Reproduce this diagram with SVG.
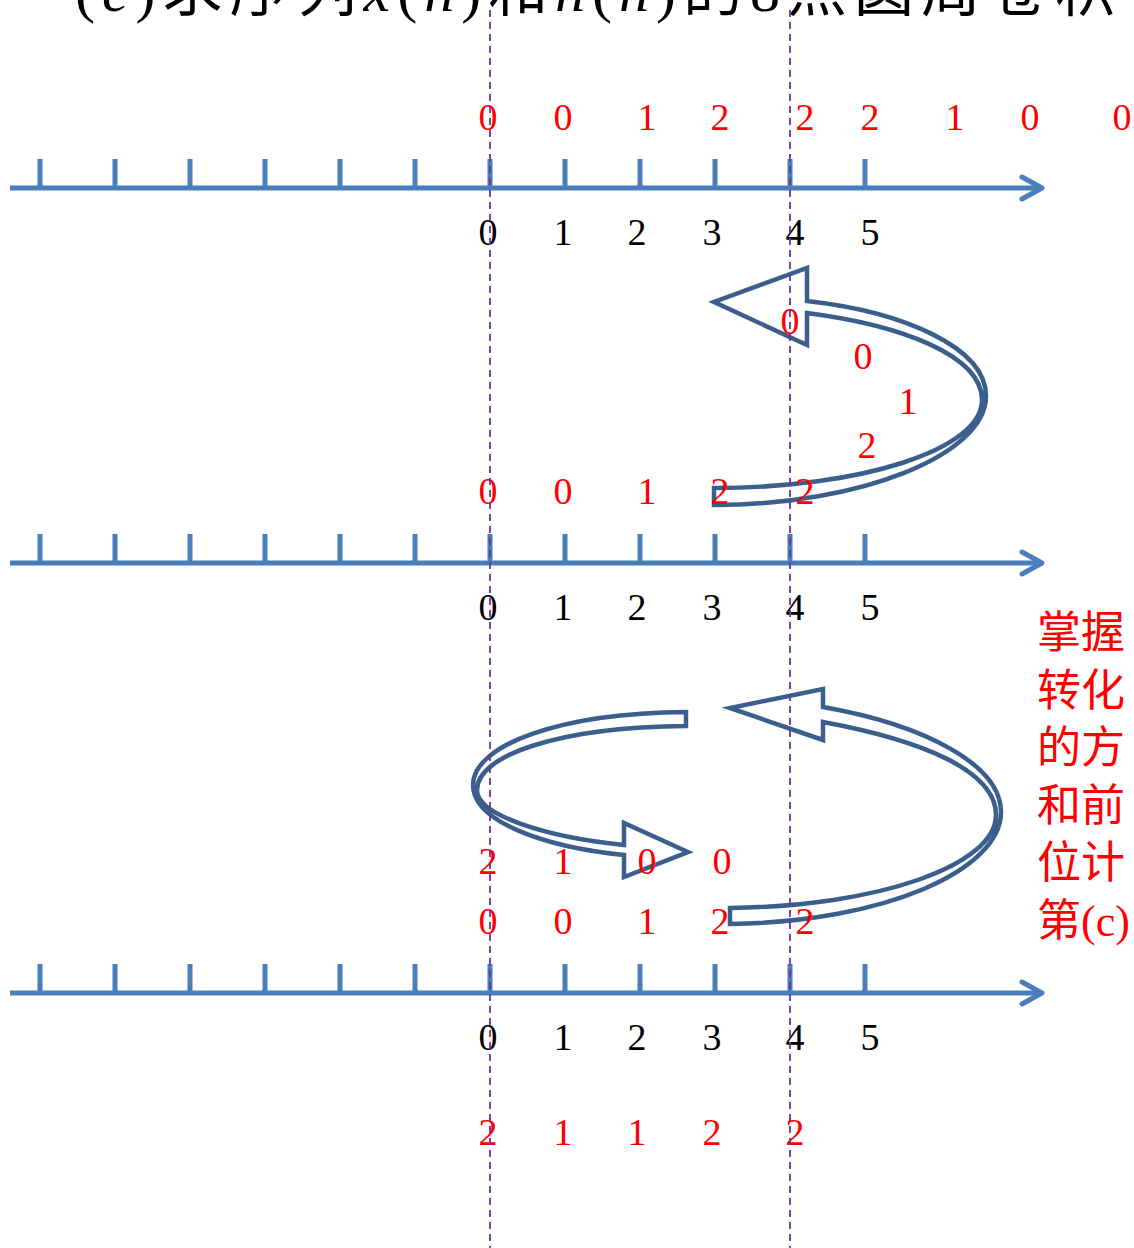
<svg xmlns="http://www.w3.org/2000/svg" width="1134" height="1248" viewBox="0 0 1134 1248">
<style>
.axis{stroke:#4A7EBB;stroke-width:5;fill:none}
.tick{stroke:#4A7EBB;stroke-width:5}
.head{stroke:#4A7EBB;stroke-width:5;fill:none;stroke-linecap:round;stroke-linejoin:round}
.carrow{fill:#fff;stroke:#3A5F8C;stroke-width:4.5;stroke-linejoin:miter}
.dash{stroke:#7030A0;stroke-width:1.8;stroke-dasharray:7,5}
.r{fill:#FF0000;font-family:"Liberation Serif",serif;font-size:38px;text-anchor:middle}
.k{fill:#000;font-family:"Liberation Serif",serif;font-size:38px;text-anchor:middle}
.cn{fill:#FF0000;font-family:"Liberation Serif","Noto Sans CJK SC",serif;font-size:44px}
.title{fill:#000;font-family:"Liberation Serif","Noto Sans CJK SC",serif;font-size:60px}
</style>
<defs>
<g id="axisg">
<line class="axis" x1="10" y1="0" x2="1040" y2="0"/>
<polyline class="head" points="1022,-11 1042,0 1022,11"/>
<path class="tick" d="M40,-29V0M115,-29V0M190,-29V0M265,-29V0M340,-29V0M415,-29V0M490,-29V0M565,-29V0M640,-29V0M715,-29V0M790,-29V0M865,-29V0"/>
</g>
</defs>

<g id="title">
<text class="title" x="75" y="11" textLength="1040" lengthAdjust="spacing">(<tspan font-style="italic">c</tspan>)求序列<tspan font-style="italic">x</tspan>(<tspan font-style="italic">n</tspan>)和<tspan font-style="italic">h</tspan>(<tspan font-style="italic">n</tspan>)的8点圆周卷积</text>
</g>

<g id="axis1">
<use href="#axisg" transform="translate(0,188)"/>
</g>
<g id="axis2">
<use href="#axisg" transform="translate(0,563)"/>
</g>
<g id="axis3">
<use href="#axisg" transform="translate(0,993)"/>
</g>

<g id="connectors">
<path id="arrow1" class="carrow" d="M714,488 C860,488 982,450 982,400 C982,355 900,325 807,313 L807,345 L714,302 L807,268 L807,301 C905,312 986,348 986,396 C986,455 860,505 714,505 Z"/>
<path id="arrow2" class="carrow" d="M686,712 C560,713 473,745 473,785 C473,822 545,847 624,855 L624,877 L688,852 L624,823 L624,845 C545,837 477,815 477,790 C477,755 560,727 686,726 Z"/>
<path id="arrow3" class="carrow" d="M730,908 C880,906 996,865 996,815 C996,770 920,740 823,722 L823,740 L730,708 L823,689 L823,707 C925,725 1001,765 1001,812 C1001,870 885,922 730,924 Z"/>
</g>

<g id="labels1">
<text class="r" x="488" y="130">0</text><text class="r" x="563" y="130">0</text><text class="r" x="647" y="130">1</text><text class="r" x="720" y="130">2</text><text class="r" x="805" y="130">2</text><text class="r" x="870" y="130">2</text><text class="r" x="955" y="130">1</text><text class="r" x="1030" y="130">0</text><text class="r" x="1122" y="130">0</text>
<text class="k" x="488" y="245">0</text><text class="k" x="563" y="245">1</text><text class="k" x="637" y="245">2</text><text class="k" x="712" y="245">3</text><text class="k" x="795" y="245">4</text><text class="k" x="870" y="245">5</text>
</g>

<g id="labels2">
<text class="r" x="790" y="334">0</text><text class="r" x="863" y="369">0</text><text class="r" x="908" y="414">1</text><text class="r" x="867" y="458">2</text>
<text class="r" x="488" y="504">0</text><text class="r" x="563" y="504">0</text><text class="r" x="647" y="504">1</text><text class="r" x="720" y="504">2</text><text class="r" x="805" y="504">2</text>
<text class="k" x="488" y="620">0</text><text class="k" x="563" y="620">1</text><text class="k" x="637" y="620">2</text><text class="k" x="712" y="620">3</text><text class="k" x="795" y="620">4</text><text class="k" x="870" y="620">5</text>
</g>

<g id="labels3">
<text class="r" x="488" y="874">2</text><text class="r" x="563" y="874">1</text><text class="r" x="647" y="874">0</text><text class="r" x="722" y="874">0</text>
<text class="r" x="488" y="934">0</text><text class="r" x="563" y="934">0</text><text class="r" x="647" y="934">1</text><text class="r" x="720" y="934">2</text><text class="r" x="805" y="934">2</text>
<text class="k" x="488" y="1050">0</text><text class="k" x="563" y="1050">1</text><text class="k" x="637" y="1050">2</text><text class="k" x="712" y="1050">3</text><text class="k" x="795" y="1050">4</text><text class="k" x="870" y="1050">5</text>
<text class="r" x="488" y="1145">2</text><text class="r" x="563" y="1145">1</text><text class="r" x="637" y="1145">1</text><text class="r" x="712" y="1145">2</text><text class="r" x="795" y="1145">2</text>
</g>

<g id="note">
<text class="cn" x="1037" y="648">掌握</text>
<text class="cn" x="1037" y="706">转化</text>
<text class="cn" x="1037" y="763">的方</text>
<text class="cn" x="1037" y="821">和前</text>
<text class="cn" x="1037" y="878">位计</text>
<text class="cn" x="1037" y="936">第(c)</text>
</g>

<g id="guides">
<line class="dash" x1="490" y1="10" x2="490" y2="1248"/>
<line class="dash" x1="790" y1="10" x2="790" y2="1248"/>
</g>
</svg>
